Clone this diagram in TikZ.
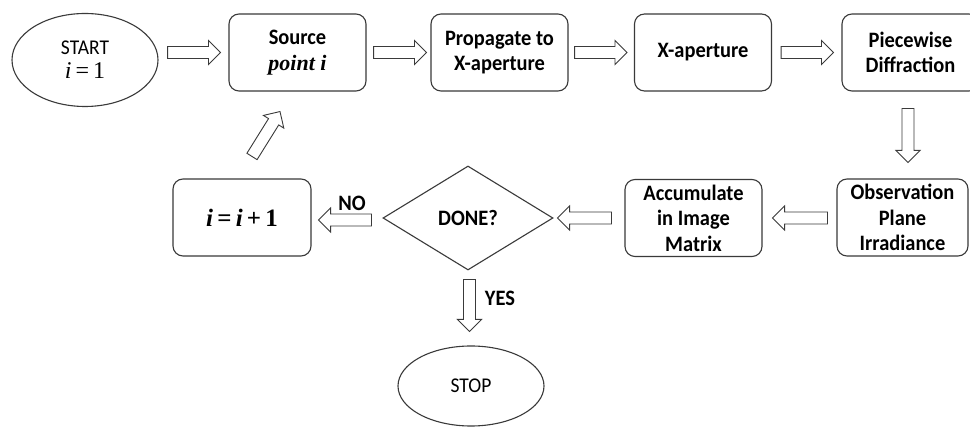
\documentclass[tikz,border=0pt]{standalone}
\usepackage{fontspec}
\setmainfont[FakeStretch=0.93]{Carlito}
\newfontfamily\mser{Liberation Serif}
\usetikzlibrary{calc,shapes.geometric}
\definecolor{ln}{HTML}{3a3a3a}
\tikzset{
 box/.style={draw=ln, line width=1.1pt, rounded corners=10pt, minimum width=137pt, minimum height=77pt, align=center, inner sep=1pt, font=\fontsize{22}{25.5}\selectfont\bfseries},
 term/.style={ellipse, draw=ln, line width=1.1pt, inner sep=0pt, align=center, font=\fontsize{21}{27}\selectfont},
 dia/.style={diamond, draw=ln, line width=1.1pt, inner sep=0pt, font=\fontsize{22}{26}\selectfont\bfseries},
 blk/.style={draw=ln, line width=0.9pt, fill=white, line join=miter},
 lbl/.style={font=\fontsize{22}{26}\selectfont\bfseries}
}
\newcommand\blkarrow[2]{%
  \draw[blk] let \p1=(#1), \p2=(#2), \n1={atan2(\y2-\y1,\x2-\x1)}, \n2={veclen(\x2-\x1,\y2-\y1)-12} in
    ($(\p1)+(\n1+90:6pt)$) -- ++(\n1:\n2) -- ++(\n1+90:6pt) -- (\p2)
    -- ($(\p1)+(\n1:\n2)+(\n1-90:12pt)$) -- ++(\n1+90:6pt) -- ($(\p1)+(\n1-90:6pt)$) -- cycle;}
\begin{document}
\begin{tikzpicture}[x=1pt,y=-1pt]
\clip (0,0) rectangle (970,427);
\fill[white] (0,0) rectangle (970,427);
% nodes
\node[term, minimum width=146pt, minimum height=93pt] (start) at (85,60) {START\\[-3pt]{\fontsize{24}{27}\selectfont{\mser\itshape i}\,{\mser=}\,{\mser 1}}};
\node[box] (src) at (297.5,52.5) {Source\\{\mser\bfseries\itshape point i}};
\node[box] (prop) at (499.5,52.5) {Propagate to\\X-aperture};
\node[box] (xap) at (703,52.5) {X-aperture};
\node[box] (piece) at (910.5,52.5) {Piecewise\\Diffraction};
\node[box, minimum width=131pt] (obs) at (902.5,217.5) {Observation\\Plane\\Irradiance};
\node[box] (acc) at (693.5,218) {Accumulate\\in Image\\Matrix};
\node[dia, minimum width=170pt, minimum height=104pt] (dec) at (468,218) {DONE?};
\node[box, minimum width=138pt, font=\fontsize{25}{28}\selectfont\mser\bfseries] (inc) at (242,217.5) {{\itshape i}\,=\,{\itshape i}\,+\,1};
\node[term, minimum width=146pt, minimum height=80pt] (stop) at (471,386) {STOP};
\node[lbl] (no) at (352,203) {NO};
\node[lbl] (yes) at (500,298) {YES};
% block arrows
\blkarrow{$(start.east|-src.west)+(9,0)$}{$(src.west)+(-8,0)$}
\blkarrow{$(src.east)+(7,0)$}{$(prop.west)+(-4,0)$}
\blkarrow{$(prop.east)+(6,0)$}{$(xap.west)+(-7,0)$}
\blkarrow{$(xap.east)+(9,0)$}{$(piece.west)+(-8,0)$}
\blkarrow{$(piece.south)+(-2.5,17)$}{$(obs.north)+(5.5,-16)$}
\blkarrow{$(obs.west)+(-9,0.5)$}{$(acc.east)+(10,0)$}
\blkarrow{$(acc.west)+(-13,0)$}{$(dec.east)+(4,0)$}
\blkarrow{$(dec.west)+(-11,2)$}{$(inc.east)+(7,2.5)$}
\blkarrow{$(inc.north)+(10,-22)$}{$(src.south)+(-17.5,20)$}
\blkarrow{$(dec.south)+(1.5,9)$}{$(stop.north)+(-1.5,-14)$}
\end{tikzpicture}
\end{document}
